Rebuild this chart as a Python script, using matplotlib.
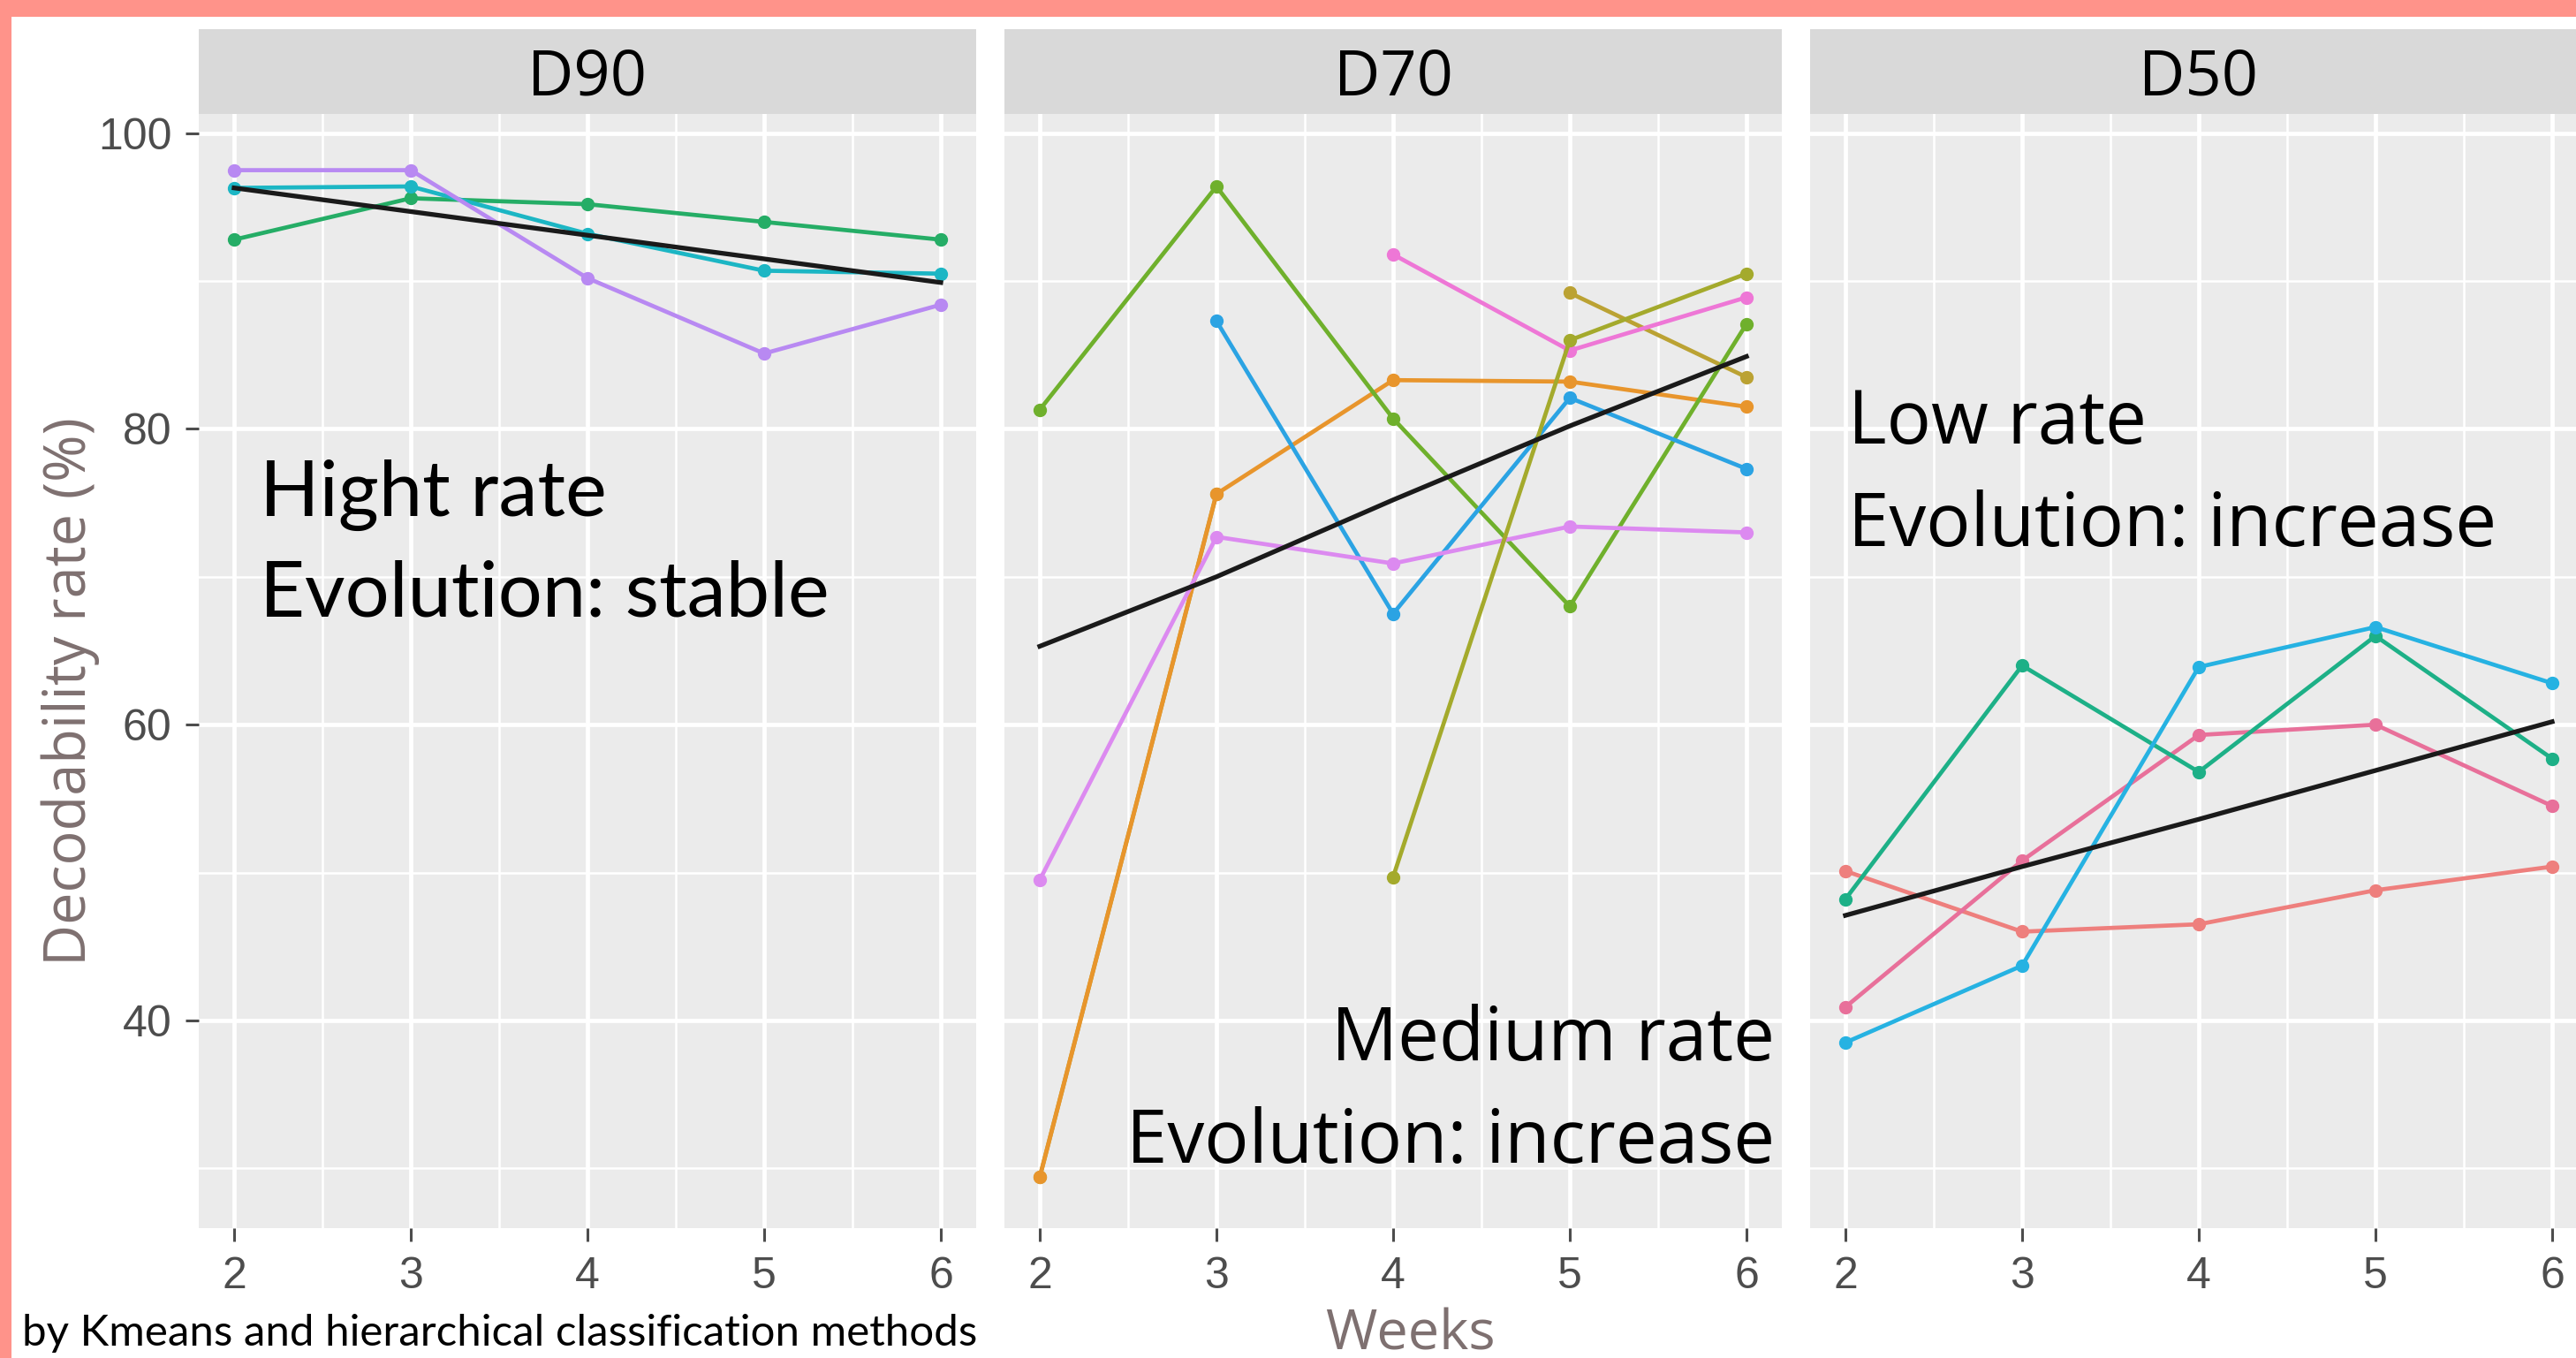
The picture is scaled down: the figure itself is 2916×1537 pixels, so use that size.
import matplotlib
matplotlib.use("Agg")
import matplotlib.pyplot as plt
import numpy as np
from matplotlib.patches import Rectangle

nan = np.nan

# ---------------- data ----------------
weeks = [2, 3, 4, 5, 6]
panel_names = ["D90", "D70", "D50"]

# D90 (high rate, stable)
d90_purple = [97.5, 97.5, 90.2, 85.1, 88.4]
d90_cyan = [96.3, 96.4, 93.2, 90.7, 90.5]
d90_green = [92.8, 95.6, 95.2, 94.0, 92.8]
d90_trend = [96.3, 94.7, 93.1, 91.5, 89.9]

# D70 (medium rate, increase)
d70_khaki = [29.4, 75.6, nan, 89.2, 83.5]
d70_orange = [29.4, 75.6, 83.3, 83.2, 81.5]
d70_olive = [81.3, 96.4, 80.7, 68.0, 87.1]
d70_blue = [nan, 87.3, 67.5, 82.1, 77.3]
d70_violet = [49.5, 72.7, 70.9, 73.4, 73.0]
d70_pink = [nan, nan, 91.8, 85.3, 88.9]
d70_ygreen = [nan, nan, 49.7, 86.0, 90.5]
d70_trend = [65.3, 70.0, 75.2, 80.2, 84.9]

# D50 (low rate, increase)
d50_salmon = [50.1, 46.0, 46.5, 48.8, 50.4]
d50_pink = [40.9, 50.8, 59.3, 60.0, 54.5]
d50_teal = [48.2, 64.0, 56.8, 66.0, 57.7]
d50_blue = [38.5, 43.7, 63.9, 66.6, 62.8]
d50_trend = [47.1, 50.4, 53.6, 56.9, 60.2]

y_major = [40, 60, 80, 100]
y_minor = [30, 50, 70, 90]
x_minor = [2.5, 3.5, 4.5, 5.5]

ylabel = "Decodability rate (%)"
xlabel = "Weeks"
note = "by Kmeans and hierarchical classification methods"
annotations = [
    ("Hight rate", "Evolution: stable"),
    ("Medium rate", "Evolution: increase"),
    ("Low rate", "Evolution: increase"),
]

# ---------------- styling ----------------
PINK = "#FF938A"
PANEL_BG = "#EBEBEB"
STRIP_BG = "#D9D9D9"
LABEL_COL = "#7E7070"
TICK_COL = "#4D4D4D"

series = [
    [(d90_green, "#25AD66"), (d90_cyan, "#1CB6C4"), (d90_purple, "#B889F2")],
    [(d70_khaki, "#BBA233"), (d70_orange, "#E8952C"), (d70_olive, "#6FB02C"),
     (d70_blue, "#2BA3E3"), (d70_violet, "#DC8AF0"), (d70_pink, "#EE77D6"),
     (d70_ygreen, "#A4AA2C")],
    [(d50_salmon, "#EE7F7D"), (d50_pink, "#E8709A"), (d50_teal, "#1DB087"),
     (d50_blue, "#26B2E2")],
]
trends = [d90_trend, d70_trend, d50_trend]

W, H = 2916, 1537
fig = plt.figure(figsize=(W / 100, H / 100), dpi=100)
fig.patch.set_facecolor("white")


def px_axes(left, top, width, height):
    return fig.add_axes([left / W, 1 - (top + height) / H, width / W, height / H])


PANEL_TOP, PANEL_BOT = 129, 1390
STRIP_TOP = 33
LEFT0, STEP, PANEL_W = 225, 912, 880

axes = []
for i, name in enumerate(panel_names):
    ax = px_axes(LEFT0 + i * STEP, PANEL_TOP, PANEL_W, PANEL_BOT - PANEL_TOP)
    ax.set_facecolor(PANEL_BG)
    ax.set_xlim(1.8, 6.2)
    ax.set_ylim(25.95, 101.3)
    ax.set_xticks(weeks)
    ax.set_xticks(x_minor, minor=True)
    ax.set_yticks(y_major)
    ax.set_yticks(y_minor, minor=True)
    ax.grid(which="major", color="white", lw=3.4)
    ax.grid(which="minor", color="white", lw=1.8)
    ax.set_axisbelow(True)
    for s in ax.spines.values():
        s.set_visible(False)
    ax.tick_params(which="minor", length=0)
    ax.tick_params(which="major", length=11, width=2.2, color=TICK_COL,
                   labelsize=36, labelcolor=TICK_COL)
    ax.tick_params(axis="x", pad=12)
    ax.tick_params(axis="y", pad=11)
    for lab in ax.get_xticklabels() + ax.get_yticklabels():
        lab.set_family("Liberation Sans")
    if i > 0:
        ax.tick_params(axis="y", left=False, labelleft=False)

    for vals, col in series[i]:
        ax.plot(weeks, vals, color=col, lw=3.4, marker="o", ms=10,
                mec=col, mfc=col, zorder=3, solid_capstyle="round")
    ax.plot(weeks, trends[i], color="#1A1A1A", lw=3.8, zorder=4)

    sax = px_axes(LEFT0 + i * STEP, STRIP_TOP, PANEL_W, PANEL_TOP - STRIP_TOP)
    sax.set_facecolor(STRIP_BG)
    sax.set_xticks([])
    sax.set_yticks([])
    for s in sax.spines.values():
        s.set_visible(False)
    sax.text(0.5, 21 / 96, name, ha="center", va="baseline",
             fontsize=52, family="Open Sans", color="black")
    axes.append(ax)

renderer = fig.canvas.get_renderer()


def fit(t, target, dim="w"):
    bb = t.get_window_extent(renderer=renderer)
    cur = bb.width if dim == "w" else bb.height
    t.set_fontsize(t.get_fontsize() * target / cur)
    return t.get_fontsize()


# annotations
a1 = axes[0].text(2.145, 74.1, annotations[0][0], family="Lato", fontsize=58,
                  ha="left", va="baseline", color="black", zorder=6)
a2 = axes[0].text(2.145, 67.3, annotations[0][1], family="Lato", fontsize=58,
                  ha="left", va="baseline", color="black", zorder=6)
fs = fit(a2, 644)
a1.set_fontsize(fs)

b1 = axes[1].text(6.16, 37.3, annotations[1][0], family="Open Sans", fontsize=56,
                  ha="right", va="baseline", color="black", zorder=6)
b2 = axes[1].text(6.16, 30.4, annotations[1][1], family="Open Sans", fontsize=56,
                  ha="right", va="baseline", color="black", zorder=6)
fs = fit(b2, 735)
b1.set_fontsize(fs)

c1 = axes[2].text(2.015, 79.0, annotations[2][0], family="Open Sans", fontsize=56,
                  ha="left", va="baseline", color="black", zorder=6)
c2 = axes[2].text(2.015, 72.1, annotations[2][1], family="Open Sans", fontsize=56,
                  ha="left", va="baseline", color="black", zorder=6)
fs = fit(c2, 735)
c1.set_fontsize(fs)

# axis labels and note
ty = fig.text(80 / W, 1 - 783 / H, ylabel, rotation=90, ha="center", va="center",
              color=LABEL_COL, family="Open Sans", fontsize=46)
fit(ty, 620, "h")
tw = fig.text(1596 / W, 1 - 1527 / H, xlabel, ha="center", va="baseline",
              color=LABEL_COL, family="Open Sans", fontsize=46)
fit(tw, 193)
tn = fig.text(25 / W, 1 - 1523 / H, note, ha="left", va="baseline",
              color="black", family="Lato", fontsize=32)
fit(tn, 1082)

# pink frame
fig.add_artist(Rectangle((0, 1 - 19 / H), 1, 19 / H, transform=fig.transFigure,
                         facecolor=PINK, edgecolor="none", zorder=10))
fig.add_artist(Rectangle((0, 0), 13 / W, 1, transform=fig.transFigure,
                         facecolor=PINK, edgecolor="none", zorder=10))

fig.savefig("out.png", dpi=100, facecolor="white")
